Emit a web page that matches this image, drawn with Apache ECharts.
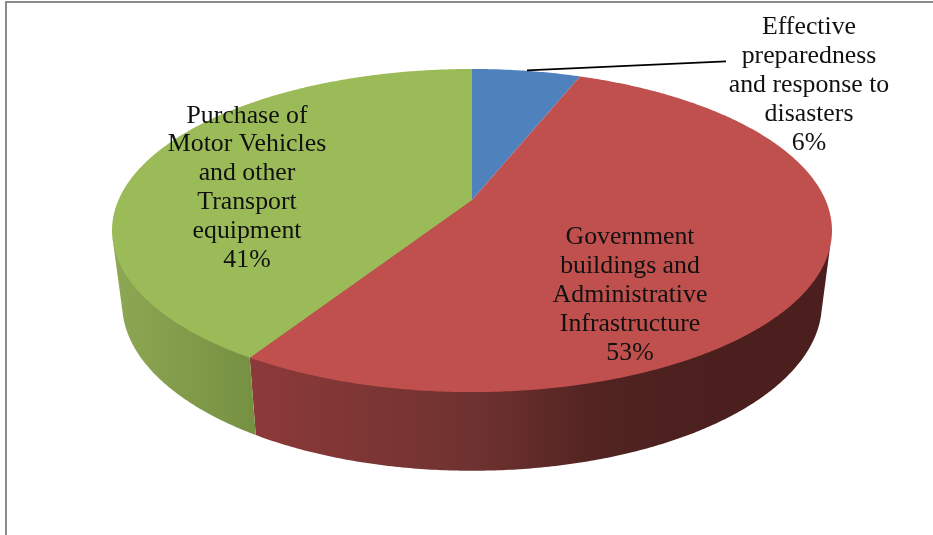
<!DOCTYPE html>
<html>
<head>
<meta charset="utf-8">
<style>html,body{margin:0;padding:0;background:#fff}#c{width:933px;height:535px}</style>
<script src="https://cdn.jsdelivr.net/npm/echarts@6/dist/echarts.min.js"></script>
</head>
<body>
<div id="c"></div>
<script>
var categories = [
  'Effective\npreparedness\nand response to\ndisasters',
  'Government\nbuildings and\nAdministrative\nInfrastructure',
  'Purchase of\nMotor Vehicles\nand other\nTransport\nequipment'
];
var shares = [5.85, 53, 41.15];
var faceColors = ['#4f81bd', '#c0504d', '#9bbb59'];

// projection of the pie disc: perspective-tilted top and bottom rims
var TOP = {cx: 472, cy: 200, a: 353.5, b: 155.8, k: 0.189};
var BOT = {cx: 472, cy: 272, a: 343.5, b: 161, k: 0.19};
// rim angles where the wall's outer silhouette leaves each rim
var SIL = {topR: 106.9, botR: 103.8, topL: 254, botL: 256.2};
var labelPos = [[809, 85.5], [630, 295], [247, 188]];
var wallFill = [
  '#3a5f8d',
  new echarts.graphic.LinearGradient(250, 0, 720, 0, [
    {offset: 0, color: '#8c3a39'},
    {offset: 0.47, color: '#6f3230'},
    {offset: 0.75, color: '#512321'},
    {offset: 1, color: '#4a1f1e'}
  ], true),
  new echarts.graphic.LinearGradient(118, 0, 256, 0, [
    {offset: 0, color: '#8ca653'},
    {offset: 1, color: '#769042'}
  ], true)
];
var total = shares.reduce(function (s, v) { return s + v; }, 0);

function rim(p, deg) {
  var t = deg * Math.PI / 180, u = Math.sin(t), v = Math.cos(t), d = 1 + p.k * v;
  return [p.cx + p.a * u / d, p.cy - p.b * v / d];
}
function arc(p, from, to) {
  var pts = [], n = Math.max(2, Math.ceil((to - from) * 2));
  for (var i = 0; i <= n; i++) pts.push(rim(p, from + (to - from) * i / n));
  return pts;
}
function angleRange(idx) {
  var before = 0;
  for (var i = 0; i < idx; i++) before += shares[i];
  return [before / total * 360, (before + shares[idx]) / total * 360];
}

var wallSeries = {
  type: 'custom', coordinateSystem: 'none', silent: true, z: 1,
  data: shares.map(function (v, i) { return {value: [v, i]}; }),
  renderItem: function (params) {
    var r = angleRange(params.dataIndex);
    if (r[1] <= SIL.botR || r[0] >= SIL.botL) return null;
    var bs = Math.max(r[0], SIL.botR), be = Math.min(r[1], SIL.botL);
    var ts = Math.max(r[0], SIL.topR), te = Math.min(r[1], SIL.topL);
    var pts = [[TOP.cx, TOP.cy], rim(TOP, ts)].concat(arc(BOT, bs, be), [rim(TOP, te)]);
    return {type: 'polygon', shape: {points: pts}, style: {fill: wallFill[params.dataIndex]}};
  }
};
var faceSeries = {
  type: 'custom', coordinateSystem: 'none', silent: true, z: 2,
  data: shares.map(function (v, i) { return {value: [v, i], name: categories[i]}; }),
  renderItem: function (params) {
    var i = params.dataIndex, r = angleRange(i);
    var pts = [[TOP.cx, TOP.cy]].concat(arc(TOP, r[0], r[1]));
    return {type: 'polygon', shape: {points: pts}, style: {fill: faceColors[i]}};
  }
};
var labelSeries = {
  type: 'custom', coordinateSystem: 'none', silent: true, z: 3,
  data: shares.map(function (v, i) { return {value: [v, i], name: categories[i]}; }),
  renderItem: function (params) {
    var i = params.dataIndex;
    return {
      type: 'text', x: labelPos[i][0], y: labelPos[i][1],
      style: {
        text: categories[i] + '\n' + Math.round(shares[i]) + '%',
        fill: '#111', font: '25.8px "Liberation Serif"', lineHeight: 28.9,
        align: 'center', verticalAlign: 'middle'
      }
    };
  }
};

var chart = echarts.init(document.getElementById('c'), null, {renderer: 'canvas'});
chart.setOption({
  animation: false,
  backgroundColor: '#ffffff',
  graphic: [
    {type: 'polyline', z: 10, shape: {points: [[6, 535], [6, 2], [933, 2]]},
     style: {stroke: '#8c8c8c', lineWidth: 2, fill: null}},
    {type: 'line', z: 10, shape: {x1: 527, y1: 70.3, x2: 726, y2: 61.3},
     style: {stroke: '#000', lineWidth: 1.8}}
  ],
  series: [wallSeries, faceSeries, labelSeries]
});
</script>
</body>
</html>
